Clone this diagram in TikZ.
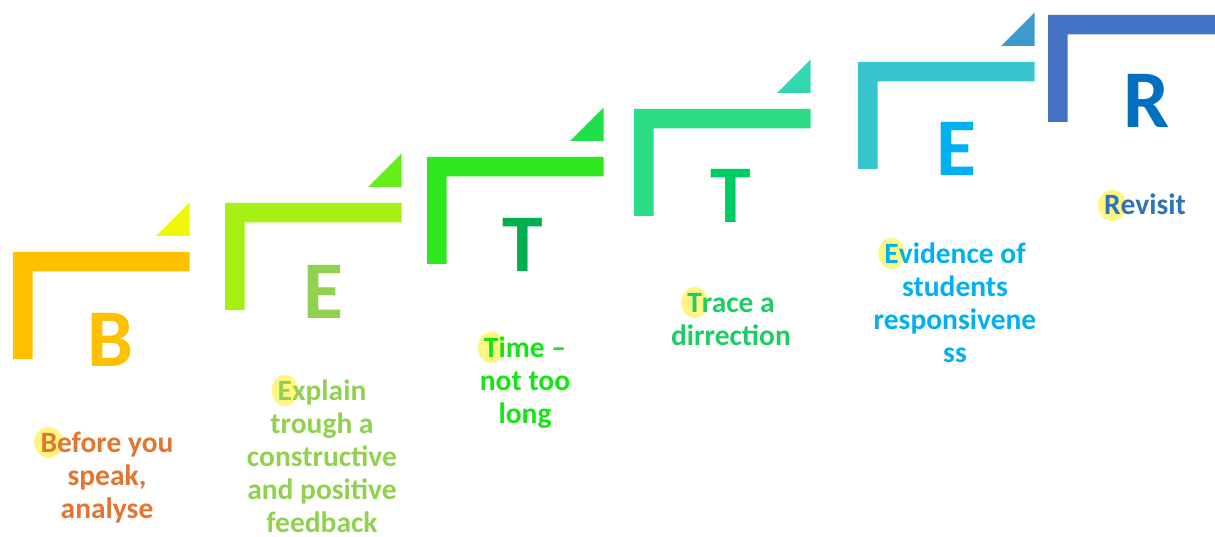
\documentclass[tikz,border=0pt]{standalone}
\usepackage{fontspec}
\setmainfont{Carlito}
\definecolor{cA}{HTML}{FFC000}\definecolor{tA}{HTML}{EEF800}
\definecolor{cB}{HTML}{A6F014}\definecolor{tB}{HTML}{66EE1A}
\definecolor{cC}{HTML}{2DE81E}\definecolor{tC}{HTML}{20E04A}
\definecolor{cD}{HTML}{2BDC84}\definecolor{tD}{HTML}{33D6B0}
\definecolor{cE}{HTML}{38C6CE}\definecolor{tE}{HTML}{3D9ACC}
\definecolor{cF}{HTML}{4472C4}
\definecolor{lA}{HTML}{FFC000}\definecolor{lB}{HTML}{92D050}
\definecolor{lC}{HTML}{00B050}\definecolor{lD}{HTML}{00CC66}
\definecolor{lE}{HTML}{00B0F0}\definecolor{lF}{HTML}{0070C0}
\definecolor{xA}{HTML}{E27530}\definecolor{xB}{HTML}{92D050}
\definecolor{xC}{HTML}{14E614}\definecolor{xD}{HTML}{1ECC64}
\definecolor{xE}{HTML}{00B0F0}\definecolor{xF}{HTML}{2E75B6}
\definecolor{glowc}{RGB}{255,245,130}
\pgfdeclareradialshading{glow}{\pgfpoint{0bp}{0bp}}{color(0bp)=(glowc); color(24bp)=(glowc); color(47bp)=(white); color(50bp)=(white)}
\newsavebox{\glowbox}
\newlength{\glw}\newlength{\glh}
\newcommand{\gl}[1]{\sbox{\glowbox}{#1}\setlength{\glw}{\wd\glowbox}\setlength{\glh}{\ht\glowbox}%
\tikz[overlay,baseline=0pt]{\shade[shading=glow] (0.5*\glw,0.5*\glh) ellipse[x radius=0.5*\glw+6pt, y radius=0.5*\glh+6pt];}\usebox{\glowbox}}
\newcommand{\stepbr}[4]{% x0, y0, bracket colour, triangle colour
  \fill[#3] (#1,#2) -- ++(176.5,0) -- ++(0,19.5) -- ++(-157,0) -- ++(0,87.5) -- ++(-19.5,0) -- cycle;
  \fill[#4] (#1+143,#2-16) -- (#1+176.5,#2-16) -- (#1+176.5,#2-49.5) -- cycle;}
\tikzset{
  bigletter/.style={anchor=base, inner sep=0pt, font=\fontsize{82}{90}\selectfont\bfseries},
  label/.style={anchor=base, inner sep=0pt, align=center, font=\fontsize{29.5}{33}\selectfont\bfseries}
}
\begin{document}
\begin{tikzpicture}[x=1pt,y=-1pt]
\clip (0,0) rectangle (1215,537);
\useasboundingbox (0,0) rectangle (1215,537);
\stepbr{13}{252}{cA}{tA}
\stepbr{225}{203}{cB}{tB}
\stepbr{427}{157}{cC}{tC}
\stepbr{634}{109}{cD}{tD}
\stepbr{858}{62}{cE}{tE}
\stepbr{1048}{15}{cF}{cF}
\node[bigletter, text=lA] (bigB) at (110,366) {B};
\node[bigletter, text=lB] (bigE) at (323,318) {E};
\node[bigletter, text=lC] (bigT) at (523,272) {T};
\node[bigletter, text=lD] (bigTT) at (731,223) {T};
\node[bigletter, text=lE] (bigEE) at (956,176) {E};
\node[bigletter, text=lF] (bigR) at (1147,128) {R};
% anchor=base of a multi-line node is the baseline of its last line
\node[label, text=xA] (labB) at (107,518) {\gl{B}efore you\\speak,\\analyse};
\node[label, text=xB] (labE) at (322,532) {\gl{E}xplain\\trough a\\constructive\\and positive\\feedback};
\node[label, text=xC] (labT) at (525,423) {\gl{T}ime –\\not too\\long};
\node[label, text=xD] (labTT) at (731,345) {\gl{T}race a\\dirrection};
\node[label, text=xE] (labEE) at (955,362) {\gl{E}vidence of\\students\\responsivene\\ss};
\node[label, text=xF] (labR) at (1145,215) {\gl{R}evisit};
\end{tikzpicture}
\end{document}
